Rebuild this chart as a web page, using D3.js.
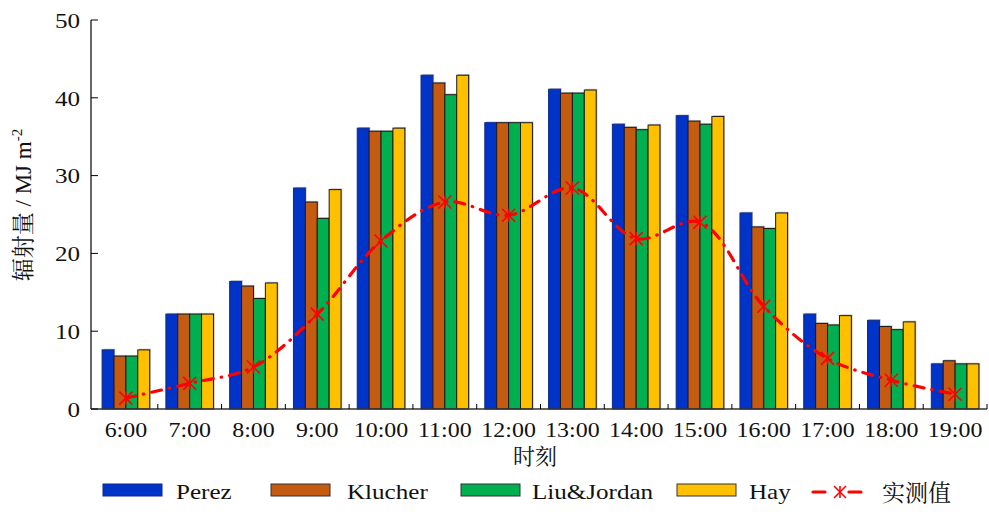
<!DOCTYPE html>
<html>
<head>
<meta charset="utf-8">
<script src="https://cdn.jsdelivr.net/npm/d3@7"></script>
<style>
  html, body { margin: 0; padding: 0; background: #fff; }
  svg { display: block; }
  text { fill: #111; }
</style>
</head>
<body>
<svg id="chart" width="989" height="515"></svg>
<script>
// Hourly radiation: four model estimates (bars) and the measured value (line)
const hours = ["6:00","7:00","8:00","9:00","10:00","11:00","12:00","13:00","14:00","15:00","16:00","17:00","18:00","19:00"];
const seriesNames = ["Perez", "Klucher", "Liu&Jordan", "Hay"];
const perez     = [7.6, 12.2, 16.4, 28.4, 36.1, 42.9, 36.8, 41.1, 36.6, 37.7, 25.2, 12.2, 11.4, 5.8];
const klucher   = [6.8, 12.2, 15.8, 26.6, 35.7, 41.9, 36.8, 40.6, 36.2, 37.0, 23.4, 11.0, 10.6, 6.2];
const liuJordan = [6.8, 12.2, 14.2, 24.5, 35.7, 40.4, 36.8, 40.6, 35.9, 36.6, 23.2, 10.8, 10.2, 5.8];
const hay       = [7.6, 12.2, 16.2, 28.2, 36.1, 42.9, 36.8, 41.0, 36.5, 37.6, 25.2, 12.0, 11.2, 5.8];
const measured  = [1.4, 3.3, 5.4, 12.2, 21.6, 26.6, 24.9, 28.4, 21.9, 24.0, 13.2, 6.5, 3.7, 1.9];
const measuredName = "实测值";
const yTicks = [0, 10, 20, 30, 40, 50];
const xTitle = "时刻";
const yTitle = "辐射量 / MJ m";
const yTitleSup = "-2";

const colors = ["#0033c8", "#c55a11", "#00b050", "#ffc000"];
const seriesValues = [perez, klucher, liuJordan, hay];

const svg = d3.select("#chart");
const latin = "'Liberation Serif', 'Times New Roman', serif";
const mixed = "'Liberation Serif', 'Noto Serif CJK SC', 'Noto Sans CJK SC', serif";
const stretch = 1.14;

const axisX = 91, bottom = 409;
const x0 = d3.scaleBand().domain(hours).range([94, 987]).paddingInner(0).paddingOuter(0);
const x1 = d3.scaleBand().domain(seriesNames).range([0, x0.bandwidth()]).paddingInner(0).paddingOuter(0.68);
const y = d3.scaleLinear().domain([0, 50]).range([bottom, 20]);

// Bars
const groups = svg.append("g").selectAll("g")
  .data(hours).join("g")
  .attr("transform", d => `translate(${x0(d)},0)`);

groups.each(function(h, i) {
  const g = d3.select(this);
  const rows = seriesNames.map((s, k) => ({ s, k, v: seriesValues[k][i] }));
  // soft grey edge behind each bar
  g.selectAll("rect.shadow").data(rows).join("rect")
    .attr("class", "shadow")
    .attr("x", d => x1(d.s) + 1.2)
    .attr("y", d => y(d.v) - 1.2)
    .attr("width", x1.bandwidth())
    .attr("height", d => bottom - y(d.v) + 1.2)
    .attr("fill", "#9a9a9a")
    .attr("opacity", 0.6);
  g.selectAll("rect.bar").data(rows).join("rect")
    .attr("class", "bar")
    .attr("x", d => x1(d.s))
    .attr("y", d => y(d.v))
    .attr("width", x1.bandwidth())
    .attr("height", d => bottom - y(d.v))
    .attr("fill", d => colors[d.k])
    .attr("stroke", d => d.k === 0 ? "#10288a" : "#1a1a1a")
    .attr("stroke-width", 1);
});

// Axes
const axes = svg.append("g");
axes.append("line").attr("x1", axisX).attr("x2", axisX).attr("y1", y(50)).attr("y2", bottom)
  .attr("stroke", "#000").attr("stroke-width", 1.2);
axes.append("line").attr("x1", axisX).attr("x2", 987).attr("y1", bottom).attr("y2", bottom)
  .attr("stroke", "#333").attr("stroke-width", 1.5);

axes.selectAll("line.ytick").data(yTicks).join("line")
  .attr("class", "ytick")
  .attr("x1", axisX).attr("x2", axisX + 7)
  .attr("y1", d => y(d)).attr("y2", d => y(d))
  .attr("stroke", "#000").attr("stroke-width", 1);

axes.selectAll("text.ylab").data(yTicks).join("text")
  .attr("class", "ylab")
  .attr("transform", d => `translate(80,${y(d)}) scale(${stretch},1)`)
  .attr("text-anchor", "end")
  .attr("dy", "0.35em")
  .attr("font-family", latin)
  .attr("font-size", 22)
  .text(d => d);

axes.selectAll("line.xtick").data(hours).join("line")
  .attr("class", "xtick")
  .attr("x1", d => x0(d) + x0.bandwidth()).attr("x2", d => x0(d) + x0.bandwidth())
  .attr("y1", bottom).attr("y2", bottom - 5)
  .attr("stroke", "#000").attr("stroke-width", 1);

axes.selectAll("text.xlab").data(hours).join("text")
  .attr("class", "xlab")
  .attr("transform", d => `translate(${x0(d) + x0.bandwidth() / 2},437) scale(${stretch},1)`)
  .attr("text-anchor", "middle")
  .attr("font-family", latin)
  .attr("font-size", 21)
  .text(d => d);

svg.append("text")
  .attr("transform", "translate(535,464)")
  .attr("text-anchor", "middle")
  .attr("font-family", mixed)
  .attr("font-size", 22)
  .text(xTitle);

const yt = svg.append("text")
  .attr("transform", "translate(31,205) rotate(-90)")
  .attr("text-anchor", "middle")
  .attr("font-family", mixed)
  .attr("font-size", 23);
yt.append("tspan").text(yTitle);
yt.append("tspan").attr("font-size", 15).attr("dy", -9).text(yTitleSup);

// Measured line
const cx = i => x0(hours[i]) + x0.bandwidth() / 2;
const line = d3.line()
  .x((d, i) => cx(i))
  .y(d => y(d))
  .curve(d3.curveCatmullRom.alpha(0.5));

svg.append("path")
  .datum(measured)
  .attr("d", line)
  .attr("fill", "none")
  .attr("stroke", "#ff0000")
  .attr("stroke-width", 3.2)
  .attr("stroke-linecap", "round")
  .attr("stroke-dasharray", "10,8,0.5,8");

function asterisk(sel, r) {
  sel.append("line").attr("x1", -r).attr("y1", -r).attr("x2", r).attr("y2", r);
  sel.append("line").attr("x1", -r).attr("y1", r).attr("x2", r).attr("y2", -r);
  sel.append("line").attr("x1", 0).attr("y1", -r).attr("x2", 0).attr("y2", r);
  sel.attr("stroke", "#ff0000").attr("stroke-width", 1.6);
}

svg.append("g").selectAll("g")
  .data(measured).join("g")
  .attr("transform", (d, i) => `translate(${cx(i)},${y(d)})`)
  .each(function() { asterisk(d3.select(this), 6.5); });

// Legend
const legend = svg.append("g");
const swatchX = [103, 271, 461, 677];
const labelX = [176, 347, 532, 749];
seriesNames.forEach((s, k) => {
  legend.append("rect")
    .attr("x", swatchX[k]).attr("y", 484).attr("width", 59).attr("height", 12)
    .attr("fill", colors[k])
    .attr("stroke", k === 0 ? "#10288a" : "#333").attr("stroke-width", 1);
  legend.append("text")
    .attr("transform", `translate(${labelX[k]},499) scale(${stretch},1)`)
    .attr("font-family", latin)
    .attr("font-size", 22)
    .text(s);
});
legend.append("line").attr("x1", 813).attr("x2", 825).attr("y1", 492).attr("y2", 492)
  .attr("stroke", "#ff0000").attr("stroke-width", 3.2).attr("stroke-linecap", "round");
legend.append("line").attr("x1", 849).attr("x2", 861).attr("y1", 492).attr("y2", 492)
  .attr("stroke", "#ff0000").attr("stroke-width", 3.2).attr("stroke-linecap", "round");
const lm = legend.append("g").attr("transform", "translate(840,492)");
asterisk(lm, 6);
legend.append("text")
  .attr("x", 882).attr("y", 501)
  .attr("font-family", mixed)
  .attr("font-size", 23)
  .text(measuredName);
</script>
</body>
</html>
